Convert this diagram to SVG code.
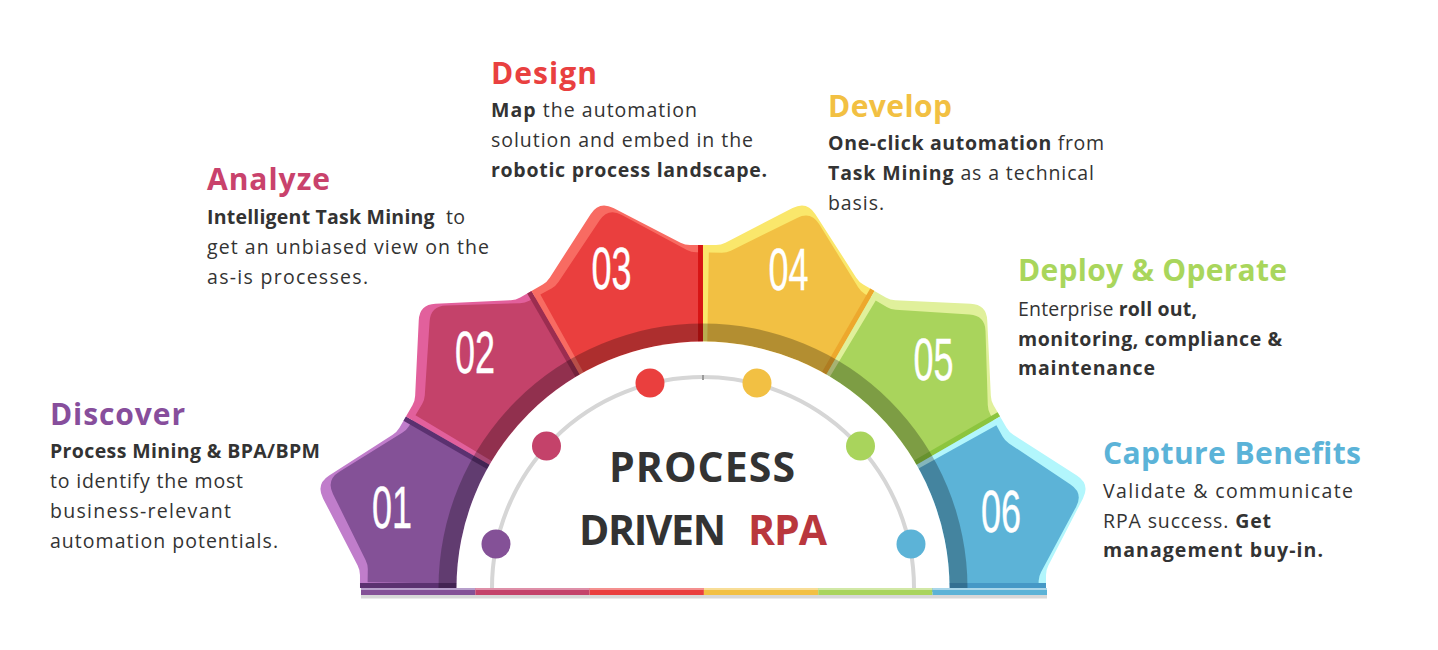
<svg xmlns="http://www.w3.org/2000/svg" width="1438" height="650" viewBox="0 0 1438 650">
<defs>
<path id="petal" d="M 190 50.9 L 331.3 88.8 L 334.7 76.2 Q 336 71.4 339.4 67.7 L 390.2 11.8 Q 401 0 390.2 -11.8 L 339.4 -67.7 Q 336 -71.4 334.7 -76.2 L 331.3 -88.8 L 190 -50.9 Z"/>
<path id="dstrip" d="M 193.2 51.8 L 331.3 88.8 L 332.6 84.0 L 194.5 47.0 Z"/>
</defs>
<style>
.num{font-family:"Liberation Sans",Arial,sans-serif;font-size:60px;fill:#fff;stroke:#fff;stroke-width:0.4px;text-anchor:middle}
.title{font-family:"Open Sans","Liberation Sans",sans-serif;font-weight:700;font-size:30px}
.body{font-family:"Open Sans","Liberation Sans",sans-serif;font-size:19.5px;fill:#333}
.b{font-weight:700}
.center{font-family:"Open Sans","Liberation Sans",sans-serif;font-weight:700;font-size:41px;fill:#333}
.dot{stroke:none}
</style>
<rect width="1438" height="650" fill="#fff"/>

<g id="node-01">
 <g transform="translate(703,588) rotate(-165)">
  <use href="#petal" fill="#C07DCB"/>
  <use href="#petal" transform="rotate(1) scale(0.978)" fill="#845197"/>
  <use href="#dstrip" fill="#5B3170"/>
  <use href="#dstrip" transform="scale(1,-1)" fill="#5B3170"/>
 </g>
 <text class="num" transform="translate(392,528) scale(0.6,1)">01</text>
</g>
<g id="node-02">
 <g transform="translate(703,588) rotate(-135)">
  <use href="#petal" fill="#E2609C"/>
  <use href="#petal" transform="rotate(1) scale(0.978)" fill="#C4426A"/>
  <use href="#dstrip" fill="#9C2D50"/>
 </g>
 <text class="num" transform="translate(475,373) scale(0.6,1)">02</text>
</g>
<g id="node-03">
 <g transform="translate(703,588) rotate(-105)">
  <use href="#petal" fill="#F86B62"/>
  <use href="#petal" transform="rotate(1) scale(0.978)" fill="#EA3F3E"/>
  <use href="#dstrip" fill="#D71414"/>
 </g>
 <text class="num" transform="translate(611.5,289) scale(0.6,1)">03</text>
</g>
<g id="node-04">
 <g transform="translate(703,588) rotate(-75)">
  <use href="#petal" fill="#FAE76B"/>
  <use href="#petal" transform="rotate(1) scale(0.978)" fill="#F2C043"/>
  <use href="#dstrip" fill="#EDA82D"/>
 </g>
 <text class="num" transform="translate(788.5,290) scale(0.6,1)">04</text>
</g>
<g id="node-05">
 <g transform="translate(703,588) rotate(-45)">
  <use href="#petal" fill="#E0F09B"/>
  <use href="#petal" transform="rotate(1) scale(0.978)" fill="#A9D45C"/>
  <use href="#dstrip" fill="#8CC53E"/>
 </g>
 <text class="num" transform="translate(933.5,380) scale(0.6,1)">05</text>
</g>
<g id="node-06">
 <g transform="translate(703,588) rotate(-15)">
  <use href="#petal" fill="#B2F6FC"/>
  <use href="#petal" transform="rotate(1) scale(0.978)" fill="#5CB3D7"/>
  <use href="#dstrip" fill="#4598C6"/>
 </g>
 <text class="num" transform="translate(1001,532) scale(0.6,1)">06</text>
</g>

<g id="hub">
 <path d="M 438.5 588 A 264.5 264.5 0 0 1 967.5 588 L 949.5 588 A 246.5 246.5 0 0 0 456.5 588 Z" fill="#000" fill-opacity="0.26"/>
 <path d="M 456.5 588 A 246.5 246.5 0 0 1 949.5 588 Z" fill="#fff"/>
 <path d="M 492 588 A 211 211 0 0 1 914 588" fill="none" stroke="#D6D6D6" stroke-width="4"/>
 <rect x="702" y="375" width="2" height="5" fill="#9A9A9A"/>
 <circle class="dot" cx="496" cy="544" r="14.5" fill="#845197"/>
 <circle class="dot" cx="546.5" cy="446" r="14.5" fill="#C4426A"/>
 <circle class="dot" cx="650" cy="383" r="14.5" fill="#EA3F3E"/>
 <circle class="dot" cx="757" cy="383" r="14.5" fill="#F2C043"/>
 <circle class="dot" cx="860.5" cy="446" r="14.5" fill="#A9D45C"/>
 <circle class="dot" cx="911" cy="544" r="14.5" fill="#5CB3D7"/>
 <text class="center" x="609" y="482" textLength="186">PROCESS</text>
 <text class="center" y="545"><tspan x="579" textLength="147">DRIVEN</tspan><tspan x="748" textLength="79" fill="#B9373D">RPA</tspan></text>
</g>

<g id="base">
 <rect x="361" y="595" width="686" height="3.5" fill="#D8D8D8"/>
 <rect x="361" y="588" width="114.3" height="7" fill="#845197"/>
 <rect x="475.3" y="588" width="114.3" height="7" fill="#C4426A"/>
 <rect x="589.6" y="588" width="114.3" height="7" fill="#EA3F3E"/>
 <rect x="703.9" y="588" width="114.3" height="7" fill="#F2C043"/>
 <rect x="818.2" y="588" width="114.3" height="7" fill="#A9D45C"/>
 <rect x="932.5" y="588" width="114.5" height="7" fill="#5CB3D7"/>
 <rect x="361" y="588" width="114.3" height="2" fill="#B79FCB"/>
 <rect x="475.3" y="588" width="114.3" height="2" fill="#DE8FA8"/>
 <rect x="589.6" y="588" width="114.3" height="2" fill="#F4908F"/>
 <rect x="703.9" y="588" width="114.3" height="2" fill="#F8DD96"/>
 <rect x="818.2" y="588" width="114.3" height="2" fill="#D1E8A6"/>
 <rect x="932.5" y="588" width="114.5" height="2" fill="#A8D6EA"/>
</g>

<g id="label-discover">
 <text class="title" x="50" y="425" fill="#874E9C" textLength="135">Discover</text>
 <text class="body" x="50" y="458" textLength="270"><tspan class="b">Process Mining &amp; BPA/BPM</tspan></text>
 <text class="body" x="50" y="488" textLength="193">to identify the most</text>
 <text class="body" x="50" y="518" textLength="181">business-relevant</text>
 <text class="body" x="50" y="548" textLength="228">automation potentials.</text>
</g>
<g id="label-analyze">
 <text class="title" x="207" y="190" fill="#C9426C" textLength="123">Analyze</text>
 <text class="body" x="207" y="224" textLength="258"><tspan class="b">Intelligent Task Mining</tspan><tspan dx="6"> to</tspan></text>
 <text class="body" x="207" y="254" textLength="282">get an unbiased view on the</text>
 <text class="body" x="207" y="284" textLength="161">as-is processes.</text>
</g>
<g id="label-design">
 <text class="title" x="491" y="84" fill="#E94040" textLength="106">Design</text>
 <text class="body" x="491" y="117" textLength="206"><tspan class="b">Map</tspan> the automation</text>
 <text class="body" x="491" y="147" textLength="262">solution and embed in the</text>
 <text class="body" x="491" y="177" textLength="276"><tspan class="b">robotic process landscape.</tspan></text>
</g>
<g id="label-develop">
 <text class="title" x="828" y="117" fill="#F2C042" textLength="124">Develop</text>
 <text class="body" x="828" y="150" textLength="276"><tspan class="b">One-click automation</tspan> from</text>
 <text class="body" x="828" y="180" textLength="266"><tspan class="b">Task Mining</tspan> as a technical</text>
 <text class="body" x="828" y="210" textLength="56">basis.</text>
</g>
<g id="label-deploy">
 <text class="title" x="1018" y="281" fill="#A9D65C" textLength="269">Deploy &amp; Operate</text>
 <text class="body" x="1018" y="316" textLength="179">Enterprise <tspan class="b">roll out,</tspan></text>
 <text class="body" x="1018" y="346" textLength="264"><tspan class="b">monitoring, compliance &amp;</tspan></text>
 <text class="body" x="1018" y="375" textLength="137"><tspan class="b">maintenance</tspan></text>
</g>
<g id="label-capture">
 <text class="title" x="1103" y="464" fill="#5BB3D8" textLength="258">Capture Benefits</text>
 <text class="body" x="1103" y="498" textLength="250">Validate &amp; communicate</text>
 <text class="body" x="1103" y="528" textLength="168">RPA success. <tspan class="b">Get</tspan></text>
 <text class="body" x="1103" y="557" textLength="220"><tspan class="b">management buy-in.</tspan></text>
</g>
</svg>
